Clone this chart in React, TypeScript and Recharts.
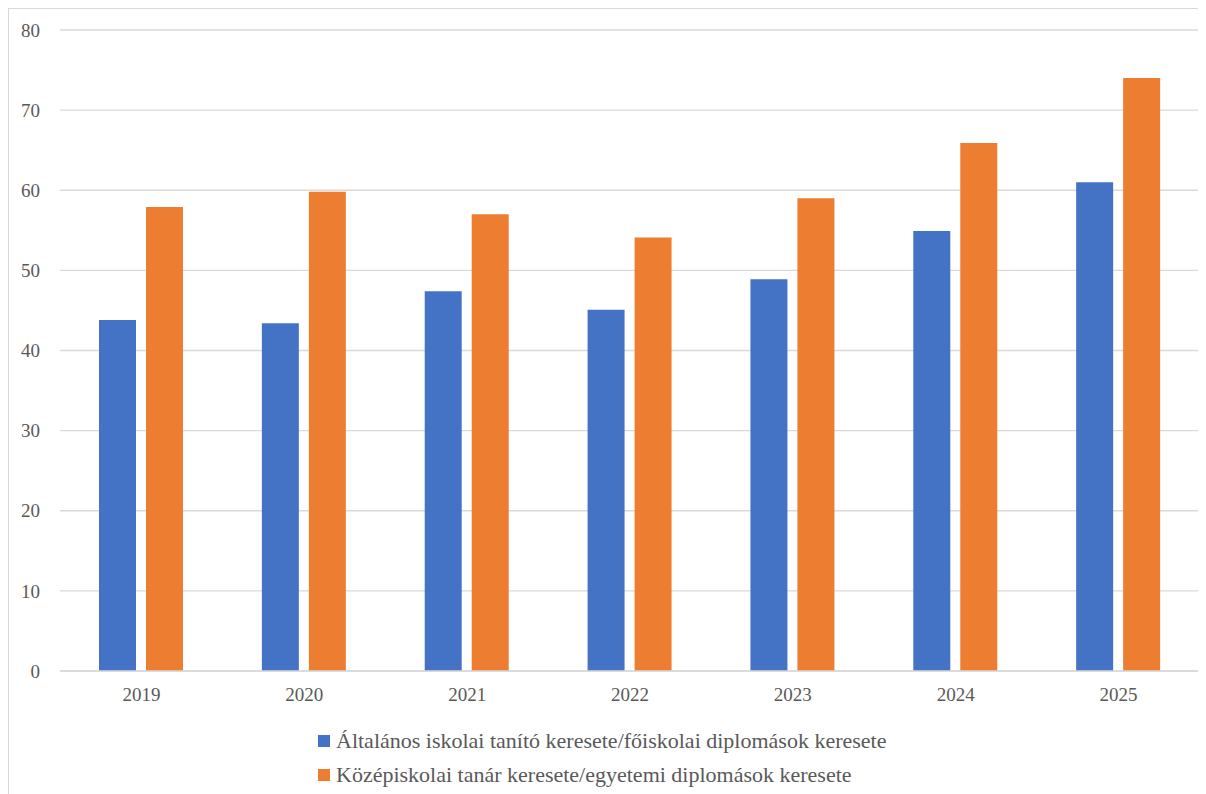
import { Bar, BarChart, CartesianGrid, Legend, XAxis, YAxis } from 'recharts';

const years = ['2019', '2020', '2021', '2022', '2023', '2024', '2025'];
const altalanos = [43.8, 43.4, 47.4, 45.1, 48.9, 54.9, 61.0];
const kozepiskolai = [57.9, 59.8, 57.0, 54.1, 59.0, 65.9, 74.0];
const yTicks = [0, 10, 20, 30, 40, 50, 60, 70, 80];

const seriesNames = [
  'Általános iskolai tanító keresete/főiskolai diplomások keresete',
  'Középiskolai tanár keresete/egyetemi diplomások keresete',
];
const colors = ['#4472C4', '#ED7D31'];

const data = years.map((year, i) => ({
  year,
  a: altalanos[i],
  b: kozepiskolai[i],
}));

const font = 'Liberation Serif, DejaVu Serif, serif';

function LegendBox() {
  return (
    <div style={{ height: 82, paddingTop: 13, paddingLeft: 309, boxSizing: 'border-box' }}>
      {seriesNames.map((name, i) => (
        <div
          key={name}
          style={{
            display: 'flex',
            alignItems: 'center',
            height: 34,
            fontFamily: font,
            fontSize: 22,
            color: '#595959',
          }}
        >
          <span
            style={{
              display: 'inline-block',
              width: 12,
              height: 12,
              background: colors[i],
              marginRight: 6,
            }}
          />
          {name}
        </div>
      ))}
    </div>
  );
}

export default function App() {
  return (
    <div
      style={{
        width: 1198,
        height: 786,
        border: '1px solid #d9d9d9',
        background: '#fff',
      }}
    >
      <BarChart
        width={1198}
        height={786}
        data={data}
        margin={{ top: 21, right: 7, left: 0, bottom: 2 }}
        barSize={37}
        barGap={10}
      >
        <CartesianGrid vertical={false} stroke='#d9d9d9' strokeWidth={1.3} />
        <XAxis
          dataKey='year'
          height={40}
          tickLine={false}
          tickSize={0}
          tickMargin={17}
          axisLine={{ stroke: '#d9d9d9', strokeWidth: 1.3 }}
          tick={{ fill: '#595959', fontSize: 19, fontFamily: font }}
        />
        <YAxis
          width={51}
          domain={[0, 80]}
          ticks={yTicks}
          axisLine={false}
          tickLine={false}
          tickSize={0}
          tickMargin={20}
          tick={{ fill: '#595959', fontSize: 19, fontFamily: font }}
        />
        <Legend
          layout='vertical'
          verticalAlign='bottom'
          align='center'
          content={() => <LegendBox />}
          wrapperStyle={{ left: 0, width: 1198 }}
        />
        <Bar dataKey='a' name={seriesNames[0]} fill={colors[0]} isAnimationActive={false} />
        <Bar dataKey='b' name={seriesNames[1]} fill={colors[1]} isAnimationActive={false} />
      </BarChart>
    </div>
  );
}
